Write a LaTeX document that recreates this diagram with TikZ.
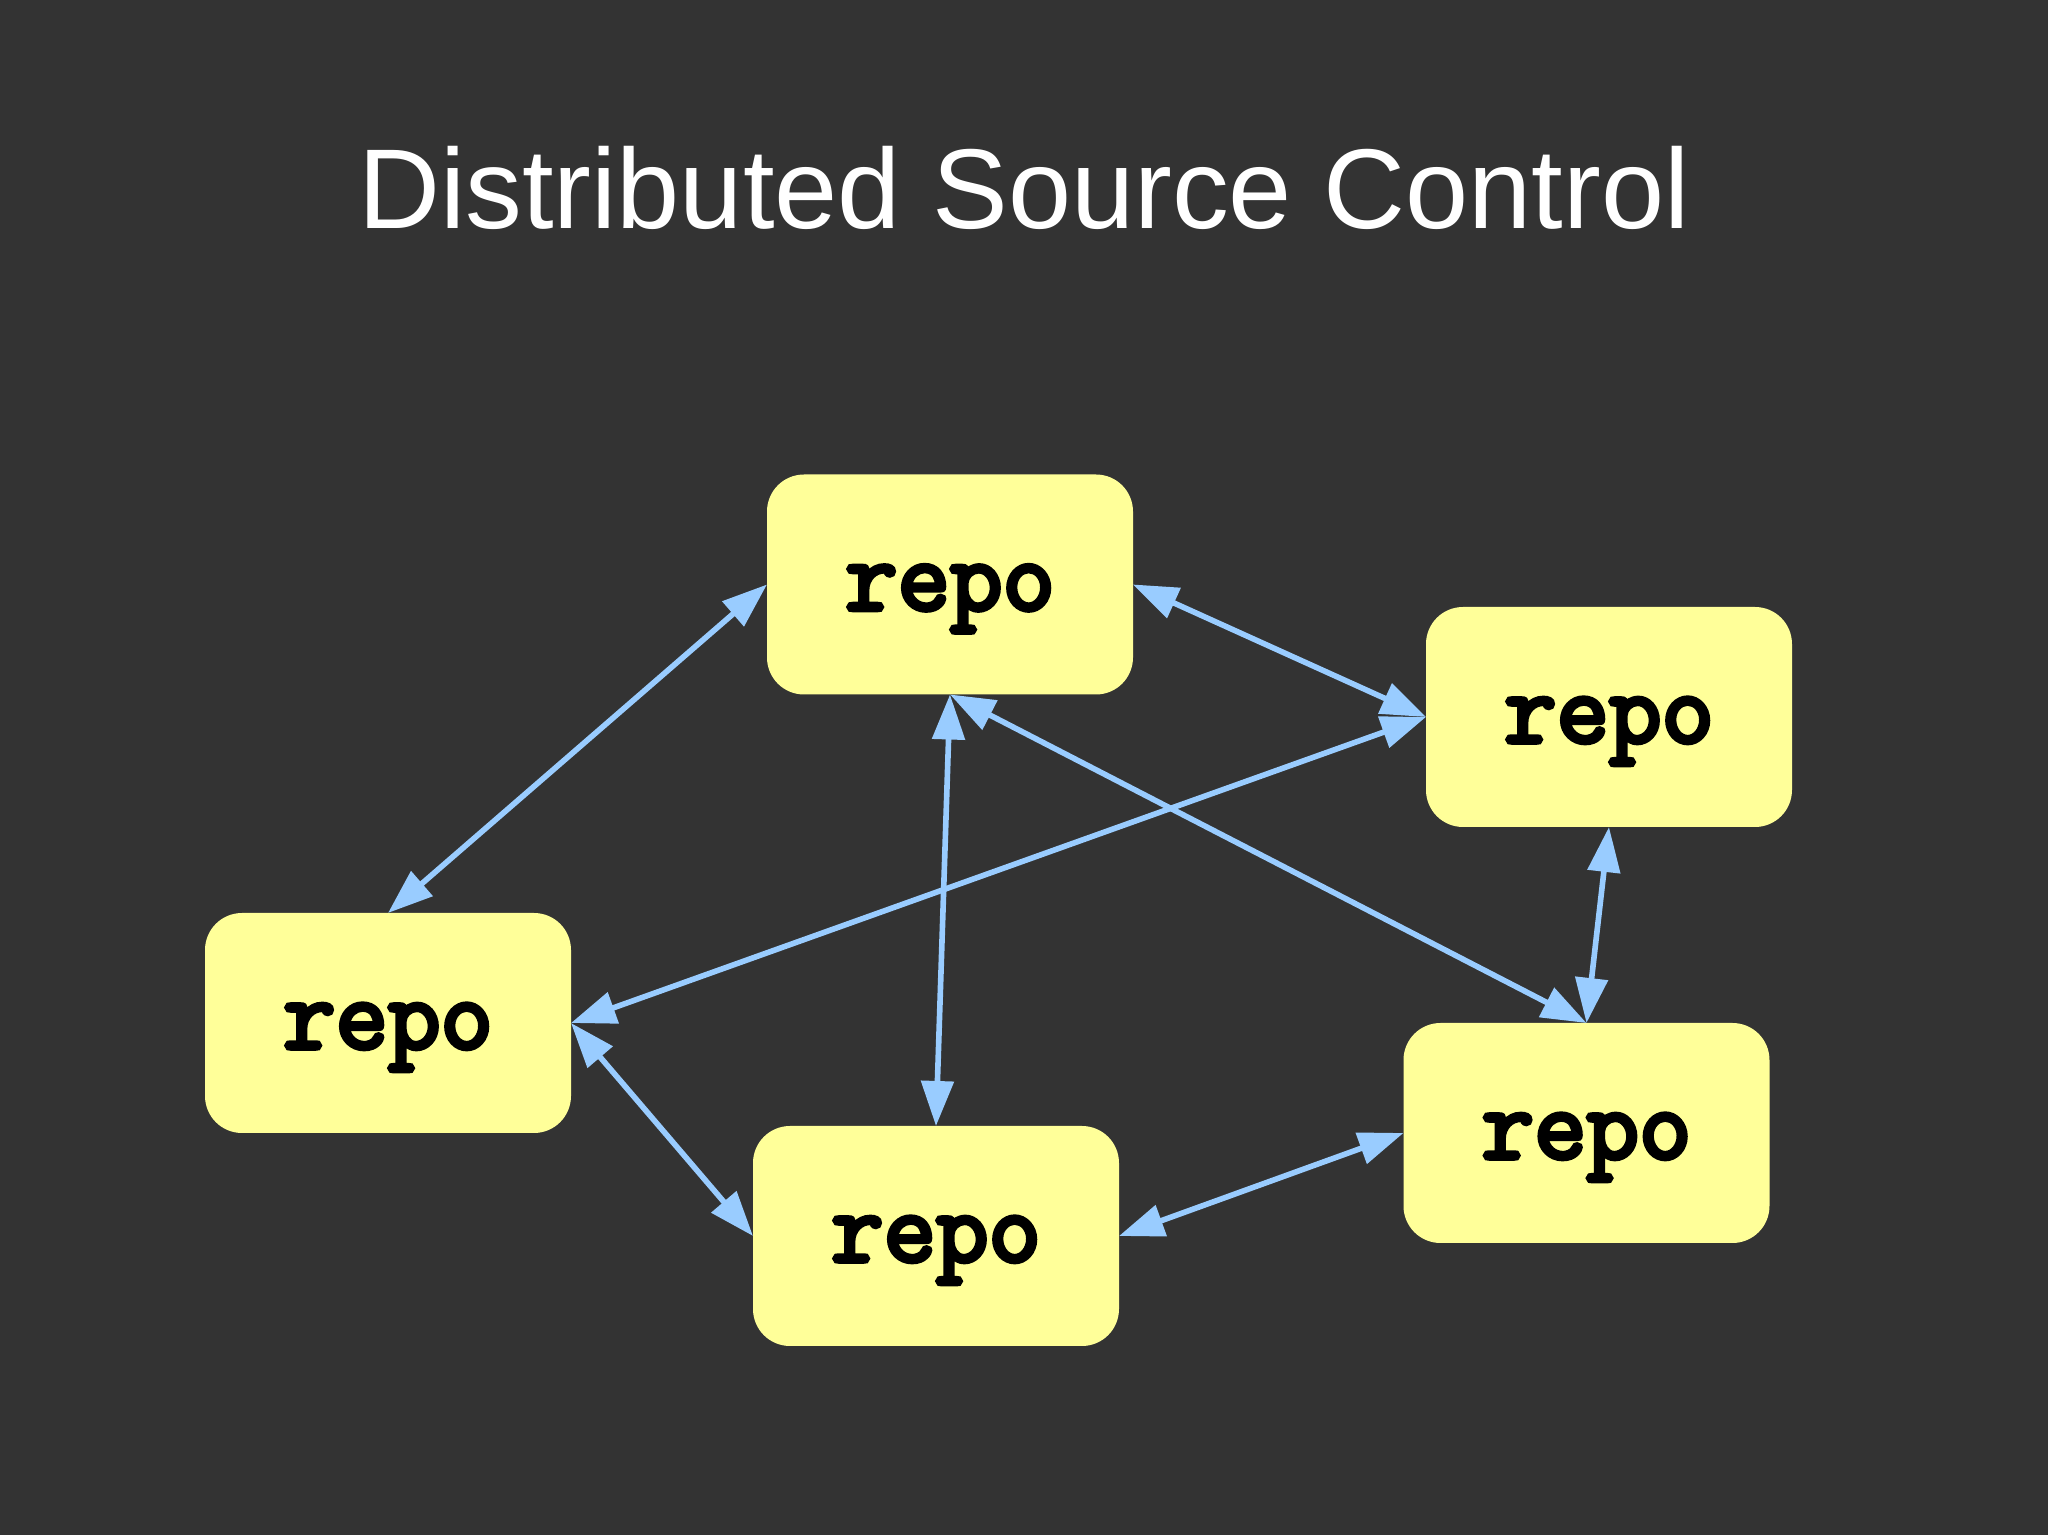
\documentclass[tikz,border=0pt]{standalone}
\usepackage{fontspec}
\setmainfont{Liberation Sans}
\newfontfamily\repofont[FakeBold=4.5]{Latin Modern Mono}
\usetikzlibrary{arrows.meta}

\begin{document}
\begin{tikzpicture}

  % Define custom colors
  \definecolor{slide}{HTML}{333333}
  \definecolor{note}{HTML}{FFFF99}
  \definecolor{link}{HTML}{99CCFF}

  \tikzset{
    repo/.style={fill=note, rounded corners=0.37cm, inner sep=0pt, outer sep=0pt,
      minimum width=3.66cm, minimum height=2.2cm, text depth=0pt, text height=14.5pt,
      font=\repofont\fontsize{29}{34}\selectfont},
    sync/.style={link, line width=1.6pt, {Triangle[length=4.5mm,width=3.2mm]}-{Triangle[length=4.5mm,width=3.2mm]}}
  }

  % Background
  \fill[slide] (0,0) rectangle (20.48,15.35);
  \useasboundingbox (0,0) rectangle (20.48,15.35);

  % Title
  \node[white, anchor=base, font=\fontsize{32.3}{38}\selectfont] (title) at (10.24,13.06) {Distributed Source Control};

  % Repositories
  \node[repo] (top) at (9.50,9.505) {repo};
  \node[repo] (right) at (16.09,8.18) {repo};
  \node[repo] (left) at (3.88,5.12) {repo};
  \node[repo] (bottom) at (9.36,2.99) {repo};
  \node[repo] (lowright) at (15.865,4.02) {repo};

  % Links
  \draw[sync] (top.west) -- (left.north);
  \draw[sync] (top.east) -- (right.west);
  \draw[sync] (right.west) -- (left.east);
  \draw[sync] (top.south) -- (lowright.north);
  \draw[sync] (top.south) -- (bottom.north);
  \draw[sync] (right.south) -- (lowright.north);
  \draw[sync] (left.east) -- (bottom.west);
  \draw[sync] (bottom.east) -- (lowright.west);

\end{tikzpicture}
\end{document}
